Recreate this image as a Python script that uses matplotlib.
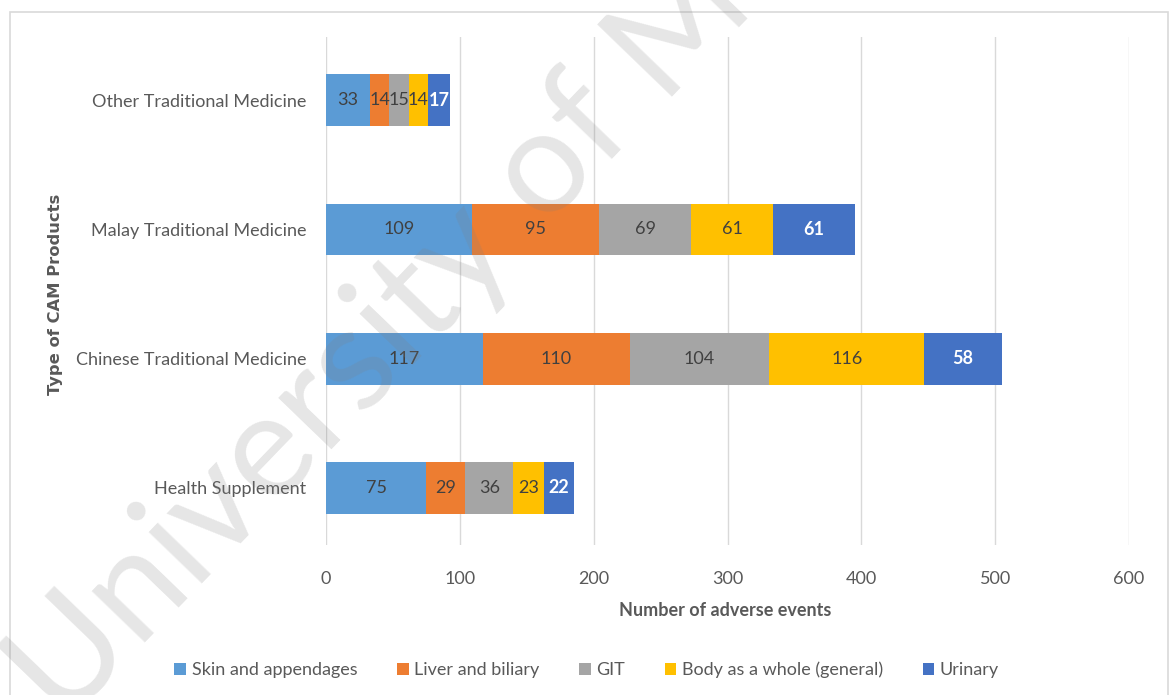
import matplotlib
matplotlib.use("Agg")
import matplotlib.pyplot as plt
from matplotlib.patches import Rectangle
import numpy as np

categories = ["Health Supplement", "Chinese Traditional Medicine",
              "Malay Traditional Medicine", "Other Traditional Medicine"]
series_names = ["Skin and appendages", "Liver and biliary", "GIT",
                "Body as a whole (general)", "Urinary"]
skin = [75, 117, 109, 33]
liver = [29, 110, 95, 14]
git = [36, 104, 69, 15]
body = [23, 116, 61, 14]
urinary = [22, 58, 61, 17]
x_ticks = [0, 100, 200, 300, 400, 500, 600]

colors = ["#5B9BD5", "#ED7D31", "#A5A5A5", "#FFC000", "#4472C4"]
font = "Lato"
fs = 13

fig = plt.figure(figsize=(11.71, 6.95), dpi=100)
ax = fig.add_axes([0.2784, 0.216, 0.6858, 0.731])

series = [skin, liver, git, body, urinary]
y = np.arange(len(categories))
left = np.zeros(len(categories))
for i, (vals, name, c) in enumerate(zip(series, series_names, colors)):
    vals = np.array(vals, dtype=float)
    bars = ax.barh(y, vals, left=left, height=0.4, color=c, label=name, zorder=3)
    for b, v in zip(bars, vals):
        cx = b.get_x() + b.get_width() / 2
        cy = b.get_y() + b.get_height() / 2
        if i == 4:
            ax.text(cx, cy, f"{int(v)}", ha="center", va="center", color="white",
                    fontsize=fs, fontweight="bold", family=font, zorder=4)
        else:
            ax.text(cx, cy, f"{int(v)}", ha="center", va="center", color="#404040",
                    fontsize=fs, family=font, zorder=4)
    left += vals

ax.set_xlim(0, 600)
ax.set_ylim(-0.44, 3.49)
ax.set_xticks(x_ticks)
ax.set_yticks(y)
ax.set_yticklabels(categories, family=font, fontsize=fs, color="#595959")
for lbl in ax.get_xticklabels():
    lbl.set_family(font)
    lbl.set_fontsize(fs)
    lbl.set_color("#595959")
ax.tick_params(axis="both", length=0)
ax.tick_params(axis="x", pad=19)
ax.tick_params(axis="y", pad=14)
ax.grid(axis="x", color="#D9D9D9", linewidth=1, zorder=0)
for s in ax.spines.values():
    s.set_visible(False)

fig.text(725 / 1171, 1 - 610 / 695, "Number of adverse events", ha="center", va="center",
         family=font, fontsize=13, fontweight="bold", color="#595959")
fig.text(0.047, 0.577, "Type of CAM Products", rotation=90, ha="center", va="center",
         family="DejaVu Sans", fontsize=11.8, fontweight="bold", color="#595959")

handles, labels = ax.get_legend_handles_labels()
leg = fig.legend(handles, labels, loc="center", bbox_to_anchor=(0.501, 0.036), ncol=5,
                 frameon=False, prop={"family": font, "size": fs},
                 handlelength=0.65, handleheight=0.65, handletextpad=0.3,
                 columnspacing=2.2)
for t in leg.get_texts():
    t.set_color("#595959")

# chart frame
fig.patches.append(Rectangle((10 / 1171, -0.01), 1158 / 1171, 1 - 12 / 695 + 0.01,
                             transform=fig.transFigure, fill=False,
                             edgecolor="#D9D9D9", linewidth=1.2))

# watermark
fig.text(0.055, -0.045, "University of Malaya", rotation=46, rotation_mode="anchor",
         ha="left", va="baseline", fontsize=105, family="Lato",
         color="#808080", alpha=0.2, zorder=10)

fig.savefig("out.png", dpi=100)
